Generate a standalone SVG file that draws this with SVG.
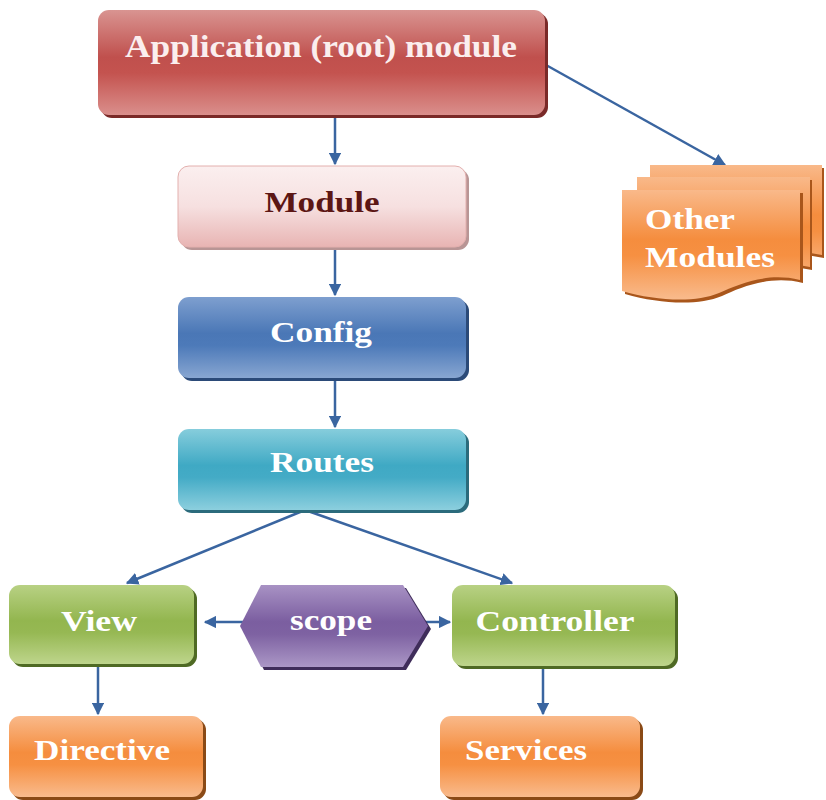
<svg xmlns="http://www.w3.org/2000/svg" width="826" height="800" viewBox="0 0 826 800">
  <defs>
    <linearGradient id="gRed" x1="0" y1="0" x2="0" y2="1">
      <stop offset="0" stop-color="#d99491"/>
      <stop offset="0.45" stop-color="#c0504d"/>
      <stop offset="0.6" stop-color="#c4534f"/>
      <stop offset="1" stop-color="#da8f8c"/>
    </linearGradient>
    <linearGradient id="gPink" x1="0" y1="0" x2="0" y2="1">
      <stop offset="0" stop-color="#fbefef"/>
      <stop offset="0.5" stop-color="#f6e0e0"/>
      <stop offset="1" stop-color="#e8b4b3"/>
    </linearGradient>
    <linearGradient id="gBlue" x1="0" y1="0" x2="0" y2="1">
      <stop offset="0" stop-color="#7e9fcf"/>
      <stop offset="0.45" stop-color="#4a77b6"/>
      <stop offset="0.6" stop-color="#4d7ab9"/>
      <stop offset="1" stop-color="#88a6d1"/>
    </linearGradient>
    <linearGradient id="gTeal" x1="0" y1="0" x2="0" y2="1">
      <stop offset="0" stop-color="#86cddc"/>
      <stop offset="0.45" stop-color="#3fa9c4"/>
      <stop offset="0.6" stop-color="#44abc6"/>
      <stop offset="1" stop-color="#8ccfde"/>
    </linearGradient>
    <linearGradient id="gGreen" x1="0" y1="0" x2="0" y2="1">
      <stop offset="0" stop-color="#b8d184"/>
      <stop offset="0.45" stop-color="#93b64f"/>
      <stop offset="0.6" stop-color="#96b853"/>
      <stop offset="1" stop-color="#bed58c"/>
    </linearGradient>
    <linearGradient id="gPurple" x1="0" y1="0" x2="0" y2="1">
      <stop offset="0" stop-color="#a892c4"/>
      <stop offset="0.45" stop-color="#7b5ea0"/>
      <stop offset="0.6" stop-color="#7e62a2"/>
      <stop offset="1" stop-color="#ab97c6"/>
    </linearGradient>
    <linearGradient id="gOrange" x1="0" y1="0" x2="0" y2="1">
      <stop offset="0" stop-color="#f9b98a"/>
      <stop offset="0.45" stop-color="#f58d3e"/>
      <stop offset="0.6" stop-color="#f69042"/>
      <stop offset="1" stop-color="#f9bb8d"/>
    </linearGradient>
    <marker id="arrow" viewBox="0 0 10 10" refX="9" refY="5" markerWidth="5" markerHeight="5" orient="auto" markerUnits="strokeWidth">
      <path d="M0,0 L10,5 L0,10 z" fill="#3a65a0"/>
    </marker>
    <style>
      .lbl { font-family: "Liberation Serif", "Times New Roman", serif; font-weight: bold; fill: #ffffff; text-anchor: middle; }
      .conn { stroke: #3a65a0; stroke-width: 2.5; fill: none; marker-end: url(#arrow); }
    </style>
  </defs>

  <!-- connectors -->
  <g id="connectors">
    <line class="conn" x1="335" y1="116" x2="335" y2="164"/>
    <line class="conn" x1="335" y1="248" x2="335" y2="295"/>
    <line class="conn" x1="335" y1="379" x2="335" y2="427"/>
    <line class="conn" x1="305" y1="510" x2="127" y2="583"/>
    <line class="conn" x1="305" y1="510" x2="512" y2="583"/>
    <line class="conn" x1="243" y1="622" x2="205" y2="622"/>
    <line class="conn" x1="418" y1="622" x2="450" y2="622"/>
    <line class="conn" x1="98" y1="665" x2="98" y2="714"/>
    <line class="conn" x1="543" y1="667" x2="543" y2="714"/>
    <line class="conn" x1="546" y1="65" x2="725" y2="165"/>
  </g>

  <g id="app">
    <rect x="101" y="13" width="447" height="105" rx="11" fill="#7a2a28"/>
    <rect x="98" y="10" width="447" height="105" rx="11" fill="url(#gRed)"/>
    <text class="lbl" x="321" y="57" font-size="31" style="fill:#fbeeee" textLength="392" lengthAdjust="spacingAndGlyphs">Application (root) module</text>
  </g>

  <g id="module">
    <rect x="181" y="169" width="288" height="81" rx="11" fill="#b89595"/>
    <rect x="178" y="166" width="288" height="81" rx="11" fill="url(#gPink)" stroke="#e3b0ae" stroke-width="1"/>
    <text class="lbl" x="322" y="212" font-size="30" style="fill:#5c1614" textLength="115" lengthAdjust="spacingAndGlyphs">Module</text>
  </g>

  <g id="config">
    <rect x="181" y="300" width="288" height="81" rx="11" fill="#2b4a78"/>
    <rect x="178" y="297" width="288" height="81" rx="11" fill="url(#gBlue)"/>
    <text class="lbl" x="321" y="342" font-size="30" textLength="102" lengthAdjust="spacingAndGlyphs">Config</text>
  </g>

  <g id="routes">
    <rect x="181" y="432" width="288" height="81" rx="11" fill="#2b6b7c"/>
    <rect x="178" y="429" width="288" height="81" rx="11" fill="url(#gTeal)"/>
    <text class="lbl" x="322" y="472" font-size="30" textLength="104" lengthAdjust="spacingAndGlyphs">Routes</text>
  </g>

  <g id="view">
    <rect x="12" y="588" width="185" height="79" rx="11" fill="#4f6a24"/>
    <rect x="9" y="585" width="185" height="79" rx="11" fill="url(#gGreen)"/>
    <text class="lbl" x="99" y="631" font-size="30" textLength="76" lengthAdjust="spacingAndGlyphs">View</text>
  </g>

  <g id="scope">
    <polygon points="264,588 406,588 431,629 406,670 264,670 243,629" fill="#3f2d5a"/>
    <polygon points="261,585 403,585 428,626 403,667 261,667 240,626" fill="url(#gPurple)"/>
    <text class="lbl" x="331" y="630" font-size="29" textLength="82" lengthAdjust="spacingAndGlyphs">scope</text>
  </g>

  <g id="controller">
    <rect x="455" y="588" width="223" height="81" rx="11" fill="#4f6a24"/>
    <rect x="452" y="585" width="223" height="81" rx="11" fill="url(#gGreen)"/>
    <text class="lbl" x="555" y="631" font-size="30" textLength="159" lengthAdjust="spacingAndGlyphs">Controller</text>
  </g>

  <g id="directive">
    <rect x="12" y="719" width="194" height="81" rx="11" fill="#8a4a16"/>
    <rect x="9" y="716" width="194" height="81" rx="11" fill="url(#gOrange)"/>
    <text class="lbl" x="102" y="760" font-size="30" textLength="136" lengthAdjust="spacingAndGlyphs">Directive</text>
  </g>

  <g id="services">
    <rect x="443" y="719" width="200" height="81" rx="11" fill="#8a4a16"/>
    <rect x="440" y="716" width="200" height="81" rx="11" fill="url(#gOrange)"/>
    <text class="lbl" x="526" y="760" font-size="30" textLength="122" lengthAdjust="spacingAndGlyphs">Services</text>
  </g>

  <g id="other-modules">
    <!-- back sheet -->
    <path d="M652,168 L824,168 L824,258 C790,250 760,262 740,272 C715,282 680,280 652,270 Z" fill="#a9561b"/>
    <path d="M650,165 L822,165 L822,255 C788,247 758,259 738,269 C713,279 678,277 650,267 Z" fill="url(#gOrange)"/>
    <!-- middle sheet -->
    <path d="M639,180 L812,180 L812,270 C778,262 748,274 728,284 C703,294 668,292 639,282 Z" fill="#a9561b"/>
    <path d="M637,177 L810,177 L810,267 C776,259 746,271 726,281 C701,291 666,289 637,279 Z" fill="url(#gOrange)"/>
    <!-- front sheet -->
    <path d="M625,193 L803,193 L803,283 C770,275 742,287 722,296 C698,306 660,304 625,294 Z" fill="#a9561b"/>
    <path d="M622,190 L800,190 L800,280 C767,272 739,284 719,293 C695,303 657,301 622,291 Z" fill="url(#gOrange)"/>
    <text class="lbl" x="690" y="229" font-size="30" textLength="90" lengthAdjust="spacingAndGlyphs">Other</text>
    <text class="lbl" x="710" y="267" font-size="30" textLength="130" lengthAdjust="spacingAndGlyphs">Modules</text>
  </g>
</svg>
